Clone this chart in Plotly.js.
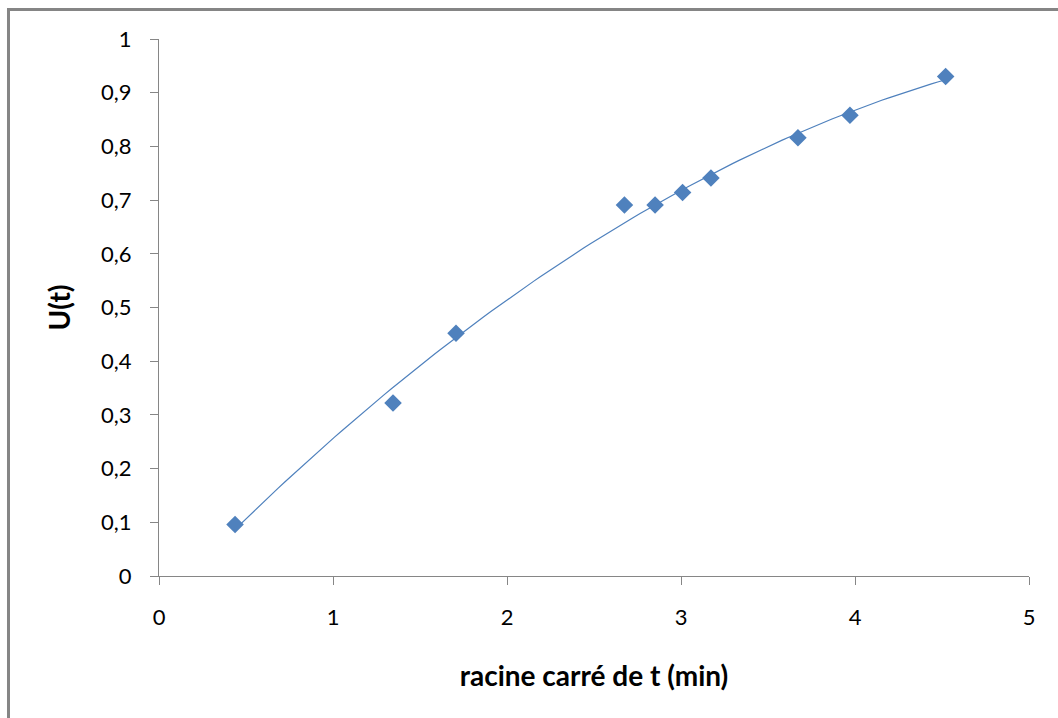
<!DOCTYPE html>
<html>
<head>
<meta charset="utf-8">
<script src="https://cdn.plot.ly/plotly-3.0.1.min.js"></script>
<style>
  html, body { margin: 0; padding: 0; background: #ffffff; }
  #chart { width: 1058px; height: 718px; }
</style>
</head>
<body>
<div id="chart"></div>
<script>
// Measured points: square root of time (min) against U(t)
const racineT = [0.437, 1.345, 1.707, 2.675, 2.851, 3.009, 3.172, 3.672, 3.971, 4.521];
const uT      = [0.096, 0.322, 0.452, 0.691, 0.691, 0.714, 0.741, 0.816, 0.858, 0.930];

const xTicks = [0, 1, 2, 3, 4, 5];
const yTicks = [0, 0.1, 0.2, 0.3, 0.4, 0.5, 0.6, 0.7, 0.8, 0.9, 1];
const xTickText = ['0', '1', '2', '3', '4', '5'];
const yTickText = ['0', '0,1', '0,2', '0,3', '0,4', '0,5', '0,6', '0,7', '0,8', '0,9', '1'];

// Second-order polynomial trend line (least squares) over the measured range
function quadFit(xs, ys) {
  const n = xs.length;
  let s = [0, 0, 0, 0, 0], t = [0, 0, 0];
  for (let i = 0; i < n; i++) {
    const x = xs[i], y = ys[i];
    let p = 1;
    for (let k = 0; k < 5; k++) { s[k] += p; p *= x; }
    t[0] += y; t[1] += y * x; t[2] += y * x * x;
  }
  // Solve normal equations [s0 s1 s2; s1 s2 s3; s2 s3 s4] * [a b c] = t
  const M = [[s[0], s[1], s[2], t[0]], [s[1], s[2], s[3], t[1]], [s[2], s[3], s[4], t[2]]];
  for (let i = 0; i < 3; i++) {
    for (let j = i + 1; j < 3; j++) {
      const f = M[j][i] / M[i][i];
      for (let k = i; k < 4; k++) M[j][k] -= f * M[i][k];
    }
  }
  const c = [0, 0, 0];
  for (let i = 2; i >= 0; i--) {
    let v = M[i][3];
    for (let k = i + 1; k < 3; k++) v -= M[i][k] * c[k];
    c[i] = v / M[i][i];
  }
  return c;
}
const coef = quadFit(racineT, uT);
const xMin = Math.min(...racineT), xMax = Math.max(...racineT);
const trendX = [], trendY = [];
for (let i = 0; i <= 100; i++) {
  const x = xMin + (xMax - xMin) * i / 100;
  trendX.push(x);
  trendY.push(coef[0] + coef[1] * x + coef[2] * x * x);
}

const blue = '#4F81BD';
const axisGrey = '#868686';
const tickFont = { family: 'Lato, "Open Sans", sans-serif', size: 22, color: '#000000' };
const titleFont = { family: 'Lato, "Open Sans", sans-serif', size: 28, color: '#000000', weight: 'bold' };

const traces = [
  {
    x: trendX, y: trendY, type: 'scatter', mode: 'lines',
    line: { color: blue, width: 1.2 }, hoverinfo: 'skip', showlegend: false
  },
  {
    x: racineT, y: uT, type: 'scatter', mode: 'markers',
    marker: { symbol: 'diamond', size: 13.5, color: blue, line: { width: 0 } },
    showlegend: false
  }
];

const layout = {
  width: 1058, height: 718,
  margin: { l: 159, r: 29, t: 39, b: 142, pad: 0 },
  paper_bgcolor: '#ffffff', plot_bgcolor: '#ffffff',
  showlegend: false,
  xaxis: {
    range: [0, 5], tickvals: xTicks, ticktext: xTickText,
    showgrid: false, zeroline: false,
    showline: true, linecolor: axisGrey, linewidth: 1,
    ticks: 'outside', ticklen: 8, tickcolor: axisGrey, tickwidth: 1,
    tickfont: tickFont, ticklabelstandoff: 14,
    automargin: true,
    title: { text: 'racine carré de t (min)', font: titleFont, standoff: 36 },
    fixedrange: true
  },
  yaxis: {
    range: [0, 1], tickvals: yTicks, ticktext: yTickText,
    showgrid: false, zeroline: false,
    showline: true, linecolor: axisGrey, linewidth: 1,
    ticks: 'outside', ticklen: 8, tickcolor: axisGrey, tickwidth: 1,
    tickfont: tickFont, ticklabelstandoff: 14,
    automargin: true,
    title: { text: 'U(t)', font: titleFont, standoff: 22 },
    fixedrange: true
  },
  shapes: [
    {
      type: 'rect', xref: 'paper', yref: 'paper',
      x0: -0.173, x1: 1.2, y0: -0.5, y1: 1.0549,
      line: { color: '#858585', width: 3 }, fillcolor: 'rgba(0,0,0,0)', layer: 'below'
    }
  ]
};

Plotly.newPlot('chart', traces, layout, { displayModeBar: false, staticPlot: true });
</script>
</body>
</html>
